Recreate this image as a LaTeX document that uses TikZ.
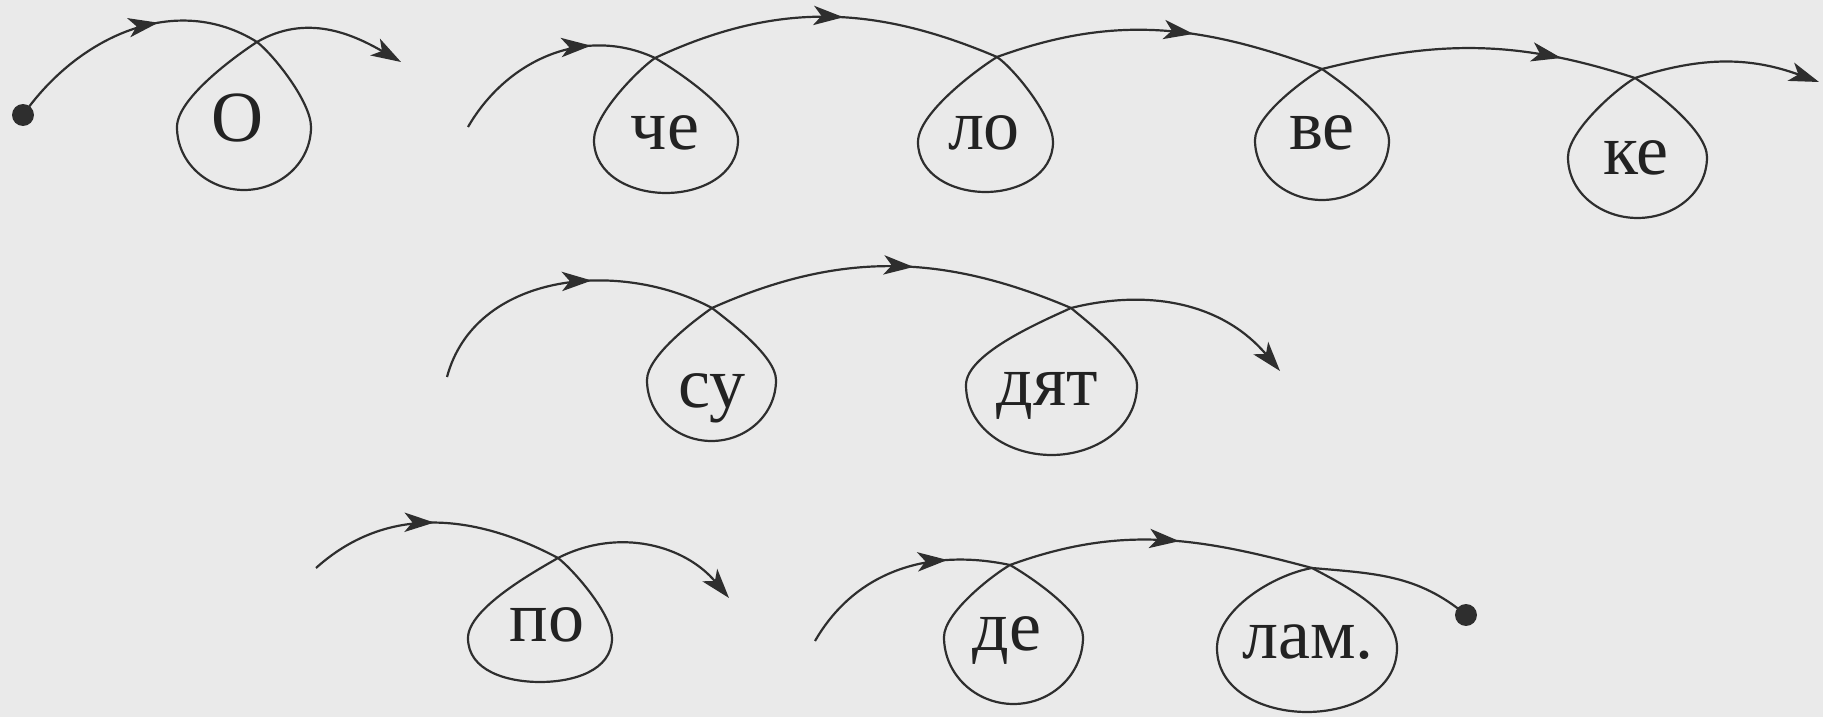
\documentclass[tikz,border=0pt]{standalone}
\usepackage{fontspec}
\setmainfont{Liberation Serif}
\usetikzlibrary{arrows.meta,decorations.markings}
\definecolor{paper}{HTML}{EAEAEA}
\definecolor{ink}{HTML}{2E2E2E}
\definecolor{txt}{HTML}{222222}
\tikzset{
  ln/.style={draw=ink, line width=1.25pt},
  syl/.style={font=\fontsize{41}{49}\selectfont, text=txt, inner sep=0pt, anchor=base},
  endtip/.style={-{Stealth[length=17pt,width=11pt,inset=4.5pt]}},
  midarrow/.style={postaction={decorate}, decoration={markings,
      mark=at position #1 with {\arrow{Stealth[length=17pt,width=11pt,inset=4.5pt]}}}},
  dotst/.style={circle, fill=ink, inner sep=0pt, minimum size=12.5pt},
}
% looseness of the loop sides near the crossing (lA) and near the widest point (lB)
\def\lA{0.55}\def\lB{0.63}
% #1 name, #2,#3 crossing, #4 centre x, #5 widest level, #6 half-width, #7 bottom,
% #8 heading leaving the crossing (right side), #9 'in' angle coming back to it (left side)
\newcommand\sylloop[9]{%
  \pgfmathsetmacro\rx{#4+#6}\pgfmathsetmacro\lx{#4-#6}%
  \coordinate (#1-x) at (#2,#3);
  \coordinate (#1-r) at (\rx,#5);
  \coordinate (#1-b) at (#4,#7);
  \coordinate (#1-l) at (\lx,#5);
  \draw[ln] (#1-x) to[out=#8,in=90,out looseness=\lA,in looseness=\lB] (#1-r)
     to[out=-90,in=0] (#1-b) to[out=180,in=-90] (#1-l)
     to[out=90,in=#9,out looseness=\lB,in looseness=\lA] (#1-x);}
\begin{document}
\begin{tikzpicture}[x=0.02cm,y=0.02cm]
\useasboundingbox (0,0) rectangle (1823,717);
\fill[paper] (0,0) rectangle (1823,717);

% ---- syllables
\node[syl] (O)    at (238,575) {О};
\node[syl] (che)  at (665,567) {че};
\node[syl] (lo)   at (984,567) {ло};
\node[syl] (ve)   at (1322,567) {ве};
\node[syl] (ke)   at (1636,542) {ке};
\node[syl] (su)   at (712,309) {су};
\node[syl] (dyat) at (1047,311) {дят};
\node[syl] (po)   at (547,75) {по};
\node[syl] (de)   at (1007,66) {де};
\node[syl] (lam)  at (1308,58) {лам.};

% ---- loops round the syllables
\sylloop{O}{257}{675}{244}{590}{67}{527}{-38}{213}
\sylloop{che}{655}{659}{666}{577}{72}{524}{-30}{215}
\sylloop{lo}{997}{660}{985.5}{575}{67.5}{525}{-35}{212}
\sylloop{ve}{1322}{648}{1322}{577}{67}{517}{-35}{210}
\sylloop{ke}{1635}{639}{1637.5}{560}{69.5}{499}{-33}{210}
\sylloop{su}{712}{409}{711.5}{337}{64.5}{276}{-38}{215}
\sylloop{dyat}{1071}{409}{1051.5}{332}{85.5}{262}{-40}{205}
\sylloop{po}{558}{159}{540}{79}{72}{35}{-38}{210}
\sylloop{de}{1010}{152}{1013.5}{80}{69.5}{13}{-30}{210}
{\def\lA{0.8}\def\lB{0.8}%
 \sylloop{lam}{1312}{149}{1307}{69}{90}{5}{-28}{190}}

% ---- free ends
\node[dotst] (d0) at (23,602) {};
\node[dotst] (d1) at (1466,102) {};
\coordinate (e1) at (401,655);
\coordinate (s2) at (468,590);
\coordinate (e2) at (1819,635);
\coordinate (s3) at (447,340);
\coordinate (e3) at (1280,346);
\coordinate (s4) at (316,149);
\coordinate (e4) at (729,119);
\coordinate (s5) at (815,76);

% ---- row 1
\draw[ln, midarrow=0.62] (d0.center) to[out=55,in=148] (O-x);
\draw[ln, endtip] (O-x) to[out=30,in=150] (e1);
\draw[ln, midarrow=0.7] (s2) to[out=60,in=155] (che-x);
\draw[ln, midarrow=0.55] (che-x) to[out=25,in=157] (lo-x);
\draw[ln, midarrow=0.6] (lo-x) to[out=20,in=160] (ve-x);
\draw[ln, midarrow=0.76] (ve-x) to[out=14,in=162] (ke-x);
\draw[ln, endtip] (ke-x) to[out=18,in=160] (e2);

% ---- row 2
\draw[ln, midarrow=0.6] (s3) to[out=75,in=152] (su-x);
\draw[ln, midarrow=0.56] (su-x) to[out=24,in=157] (dyat-x);
\draw[ln, endtip] (dyat-x) to[out=14,in=130] (e3);

% ---- row 3
\draw[ln, midarrow=0.5] (s4) to[out=42,in=152] (po-x);
\draw[ln, endtip] (po-x) to[out=27,in=130] (e4);
\draw[ln, midarrow=0.72] (s5) to[out=60,in=168] (de-x);
\draw[ln, midarrow=0.56] (de-x) to[out=20,in=165] (lam-x);
\draw[ln] (lam-x) to[out=-5,in=140] (d1.center);
\end{tikzpicture}
\end{document}
